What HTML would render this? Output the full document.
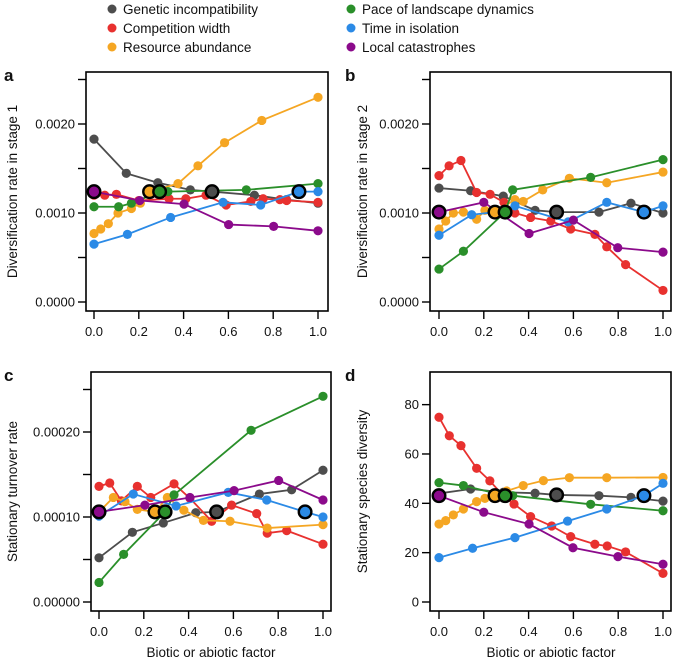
<!DOCTYPE html>
<html><head><meta charset="utf-8">
<style>
body{margin:0;background:#fff;width:673px;height:660px;overflow:hidden;font-family:"Liberation Sans",Arial,sans-serif;}
svg text{font-family:"Liberation Sans",Arial,sans-serif;fill:#111;}
</style></head>
<body>
<svg id="chart" width="673" height="660" xmlns="http://www.w3.org/2000/svg">
  <g id="legend">
    <g><circle cx="112" cy="9" r="4.5" fill="#4d4d4d"/><text x="123" y="14" font-size="13.5">Genetic incompatibility</text></g>
    <g><circle cx="112" cy="28" r="4.5" fill="#e8312f"/><text x="123" y="33" font-size="13.5">Competition width</text></g>
    <g><circle cx="112" cy="47" r="4.5" fill="#f5a623"/><text x="123" y="52" font-size="13.5">Resource abundance</text></g>
    <g><circle cx="351" cy="9" r="4.5" fill="#2a8f2a"/><text x="362" y="14" font-size="13.5">Pace of landscape dynamics</text></g>
    <g><circle cx="351" cy="28" r="4.5" fill="#2b8ae6"/><text x="362" y="33" font-size="13.5">Time in isolation</text></g>
    <g><circle cx="351" cy="47" r="4.5" fill="#8b0a8b"/><text x="362" y="52" font-size="13.5">Local catastrophes</text></g>
  </g>
</svg>
<script>
const seriesNames = ["genetic-incompatibility","competition-width","resource-abundance","pace-of-landscape-dynamics","time-in-isolation","local-catastrophes"];
const seriesColors = ["#4d4d4d","#e8312f","#f5a623","#2a8f2a","#2b8ae6","#8b0a8b"];
const baselineX = [0.525, null, 0.25, 0.295, 0.915, 0];

const aX = [
 [0,.144,.285,.43,.527,.716,.859,1.0],
 [0,.048,.1,.2,.335,.41,.5,.59,.70,.755,.83,.86,1.0],
 [0,.03,.064,.107,.167,.207,.248,.375,.464,.583,.749,1.0],
 [0,.11,.167,.293,.33,.68,1.0],
 [0,.149,.342,.576,.744,.915,1.0],
 [0,.204,.402,.601,.802,1.0]];
const aY = [
 [1.83,1.446,1.34,1.26,1.24,1.20,1.15,1.11],
 [1.2,1.2,1.21,1.14,1.16,1.16,1.2,1.09,1.13,1.16,1.15,1.14,1.12],
 [.77,.82,.88,1.0,1.05,1.11,1.24,1.33,1.53,1.79,2.04,2.30],
 [1.07,1.07,1.11,1.24,1.24,1.26,1.33],
 [.65,.76,.95,1.12,1.09,1.24,1.24],
 [1.24,1.14,1.10,.87,.85,.80]];
const bX = [
 [0,.141,.287,.429,.525,.714,.857,1.0],
 [0,.045,.098,.168,.228,.29,.339,.409,.499,.588,.696,.749,.833,1.0],
 [0,.03,.064,.109,.168,.205,.25,.339,.376,.463,.582,.749,1.0],
 [0,.109,.295,.329,.677,1.0],
 [0,.146,.25,.339,.577,.749,.915,1.0],
 [0,.2,.402,.6,.798,1.0]];
const bY = [
 [1.28,1.25,1.19,1.03,1.01,1.01,1.11,1.0],
 [1.42,1.53,1.59,1.23,1.21,1.12,1.0,.95,.91,.82,.76,.62,.42,.13],
 [.82,.91,1.0,1.01,.93,1.03,1.01,1.15,1.13,1.26,1.39,1.34,1.46],
 [.37,.57,1.01,1.26,1.40,1.60],
 [.75,.98,1.01,1.08,.90,1.12,1.01,1.08],
 [1.01,1.12,.77,.92,.61,.56]];
const cX = [
 [0,.149,.287,.432,.525,.716,.86,1.0],
 [0,.048,.1,.171,.231,.335,.406,.503,.592,.704,.751,.838,1.0],
 [0,.064,.116,.171,.25,.305,.379,.466,.585,.751,1.0],
 [0,.11,.295,.335,.679,1.0],
 [0,.153,.344,.577,.749,.92,1.0],
 [0,.205,.406,.603,.802,1.0]];
const cY = [
 [.52,.82,.93,1.05,1.06,1.27,1.32,1.55],
 [1.36,1.40,1.19,1.36,1.23,1.39,1.22,.95,1.14,1.04,.81,.84,.68],
 [1.06,1.23,1.18,1.09,1.06,1.23,1.08,.96,.95,.87,.91],
 [.23,.56,1.06,1.26,2.02,2.42],
 [1.01,1.27,1.13,1.29,1.20,1.06,1.0],
 [1.06,1.14,1.23,1.31,1.43,1.2]];
const dX = [
 [0,.141,.287,.429,.525,.714,.857,1.0],
 [0,.046,.098,.168,.227,.287,.335,.409,.503,.588,.696,.751,.833,1.0],
 [0,.03,.064,.109,.168,.205,.25,.302,.376,.466,.582,.749,1.0],
 [0,.109,.295,.329,.677,1.0],
 [0,.15,.339,.574,.749,.915,1.0],
 [0,.2,.402,.598,.799,1.0]];
const dY = [
 [44,45.8,44.5,44.1,43.4,43.1,42.4,40.9],
 [74.9,67.4,63.4,54.2,49.1,43.1,39.7,34.6,30.8,26.5,23.4,22.7,20.3,11.6],
 [31.6,33,35.3,37.7,40.7,42,43.1,45,47.2,49.2,50.4,50.4,50.5],
 [48.4,47.2,43.1,43.1,39.6,37],
 [18,21.8,26.1,32.8,37.7,43.1,48.1],
 [43.1,36.4,31.6,22,18.4,15.3]];

const xTicks = [0,0.2,0.4,0.6,0.8,1.0];
const xTickLabels = ["0.0","0.2","0.4","0.6","0.8","1.0"];
const aTicks = [0,0.5,1,1.5,2,2.5];
const aTickLabels = ["0.0000","","0.0010","","0.0020",""];
const cTicks = [0,0.5,1,1.5,2,2.5];
const cTickLabels = ["0.00000","","0.00010","","0.00020",""];
const dTicks = [0,20,40,60,80];
const dTickLabels = ["0","20","40","60","80"];

const NS="http://www.w3.org/2000/svg";
const svg=document.getElementById('chart');
function mk(tag,attrs,parent){const e=document.createElementNS(NS,tag);for(const k in attrs)e.setAttribute(k,attrs[k]);(parent||svg).appendChild(e);return e;}

const panels=[
 {id:'a',X:aX,Y:aY,ticks:aTicks,labels:aTickLabels,title:'Diversification rate in stage 1',box:[86,72,328,311],x0:94,x1:318,y0:302,ppu:89,letterX:4,titleX:12,xlabY:336,showXTitle:false},
 {id:'b',X:bX,Y:bY,ticks:aTicks,labels:aTickLabels,title:'Diversification rate in stage 2',box:[430,72,671,311],x0:439,x1:663,y0:302,ppu:89,letterX:345,titleX:362,xlabY:336,showXTitle:false},
 {id:'c',X:cX,Y:cY,ticks:cTicks,labels:cTickLabels,title:'Stationary turnover rate',box:[91,372,331,611],x0:99,x1:323,y0:602,ppu:85,letterX:4,titleX:12,xlabY:636,showXTitle:true},
 {id:'d',X:dX,Y:dY,ticks:dTicks,labels:dTickLabels,title:'Stationary species diversity',box:[430,372,671,611],x0:439,x1:663,y0:602,ppu:2.467,letterX:345,titleX:362,xlabY:636,showXTitle:true}
];

panels.forEach(p=>{
  const g=mk('g',{});
  
  
  const sx=v=>p.x0+(p.x1-p.x0)*v;
  const sy=v=>p.y0-p.ppu*v;
  const [L,T,R,B]=p.box;
  const box=mk('rect',{x:L,y:T,width:R-L,height:B-T,fill:'none',stroke:'#000','stroke-width':1.6},g);
  
  
  const lt=mk('text',{x:p.letterX,y:T+9,'font-size':17,'font-weight':'bold'},g);
  lt.textContent=p.id;
  
  
  const ya=mk('g',{},g);
  
  
  p.ticks.forEach((t,i)=>{
    const y=sy(t);
    mk('line',{x1:L-8,x2:L,y1:y,y2:y,stroke:'#000','stroke-width':1.4},ya);
    if(p.labels[i]){const tx=mk('text',{x:L-11,y:y+4.5,'font-size':13,'text-anchor':'end'},ya);tx.textContent=p.labels[i];
      
      }
  });
  const yt=mk('text',{x:p.titleX,y:(T+B)/2,'font-size':13.5,'text-anchor':'middle',transform:`rotate(-90 ${p.titleX} ${(T+B)/2})`,dy:5},g);
  yt.textContent=p.title;
  
  
  const xa=mk('g',{},g);
  
  
  xTicks.forEach((t,i)=>{
    const x=sx(t);
    mk('line',{x1:x,x2:x,y1:B,y2:B+8,stroke:'#000','stroke-width':1.4},xa);
    const tx=mk('text',{x:x,y:p.xlabY,'font-size':13,'text-anchor':'middle'},xa);tx.textContent=xTickLabels[i];
    
    
  });
  if(p.showXTitle){const xt=mk('text',{x:(p.x0+p.x1)/2,y:657,'font-size':13.5,'text-anchor':'middle'},g);xt.textContent='Biotic or abiotic factor';
    
    }
  p.X.forEach((xs,s)=>{
    const sg=mk('g',{},g);
    
    
    const pts=xs.map((x,i)=>sx(x)+','+sy(p.Y[s][i])).join(' ');
    mk('polyline',{points:pts,fill:'none',stroke:seriesColors[s],'stroke-width':1.8},sg);
    xs.forEach((x,i)=>{
      const c=mk('circle',{cx:sx(x),cy:sy(p.Y[s][i]),r:4.6,fill:seriesColors[s]},sg);
      
      
    });
  });
  p.X.forEach((xs,s)=>{
    if(baselineX[s]===null) return;
    let bi=0,bd=9;xs.forEach((x,i)=>{if(Math.abs(x-baselineX[s])<bd){bd=Math.abs(x-baselineX[s]);bi=i;}});
    const c=mk('circle',{cx:sx(xs[bi]),cy:sy(p.Y[s][bi]),r:6.3,fill:seriesColors[s],stroke:'#000','stroke-width':2.4},g);
    
    
  });
});
</script>
</body></html>
